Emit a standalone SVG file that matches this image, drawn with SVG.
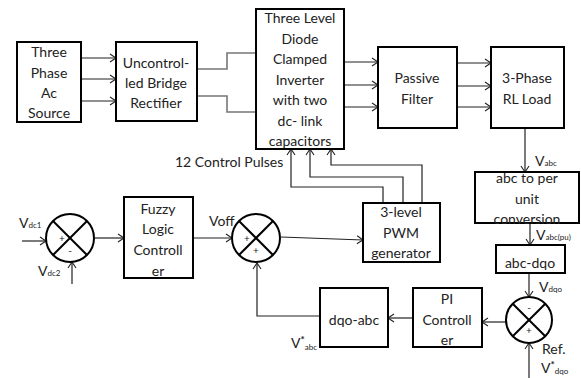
<svg xmlns="http://www.w3.org/2000/svg" width="581" height="378" viewBox="0 0 581 378">
<defs>
<marker id="ah" markerWidth="8" markerHeight="10" refX="7" refY="5" orient="auto" markerUnits="userSpaceOnUse">
<path d="M1,1 L7,5 L1,9" fill="none" stroke="#222" stroke-width="1.1"/>
</marker>
</defs>
<style>
.box{fill:#fff;stroke:#000;stroke-width:2}
.sum{fill:#fff;stroke:#000;stroke-width:2}
.x{stroke:#000;stroke-width:2}
.c{fill:none;stroke:#222;stroke-width:1.2}
.a{fill:none;stroke:#222;stroke-width:1.2;marker-end:url(#ah)}
.g{fill:none;stroke:#777;stroke-width:1.6}
.t{font-family:Lato,"Liberation Sans",sans-serif;font-size:14px;fill:#222;text-anchor:middle}
.l{font-family:Lato,"Liberation Sans",sans-serif;font-size:14px;fill:#222}
.s{font-size:8px}
.st{font-size:10px;font-weight:bold}
.sg{font-family:Lato,"Liberation Sans",sans-serif;font-size:10px;fill:#222;text-anchor:middle}
</style>
<g id="connectors">
<line class="a" x1="81" y1="58" x2="116" y2="58"/>
<line class="a" x1="81" y1="79" x2="116" y2="79"/>
<line class="a" x1="81" y1="101" x2="116" y2="101"/>
<polyline class="g" points="197,69 227,69 227,53 256,53"/>
<polyline class="g" points="197,96 227,96 227,112 256,112"/>
<line class="a" x1="344" y1="62" x2="378" y2="62"/>
<line class="a" x1="344" y1="85" x2="378" y2="85"/>
<line class="a" x1="344" y1="107" x2="378" y2="107"/>
<line class="a" x1="457" y1="63" x2="491" y2="63"/>
<line class="a" x1="457" y1="86" x2="491" y2="86"/>
<line class="a" x1="457" y1="107" x2="491" y2="107"/>
<line class="a" x1="525" y1="128" x2="525" y2="172"/>
<line class="a" x1="530" y1="223" x2="530" y2="245"/>
<line class="a" x1="529" y1="273" x2="529" y2="297"/>
<line class="a" x1="529" y1="378" x2="529" y2="343"/>
<line class="a" x1="506" y1="322" x2="482" y2="322"/>
<line class="a" x1="413" y1="318" x2="388" y2="318"/>
<polyline class="a" points="320,316 257,316 257,263"/>
<line class="a" x1="22" y1="241" x2="46" y2="241"/>
<line class="a" x1="72" y1="284" x2="72" y2="262"/>
<line class="a" x1="95" y1="238" x2="124" y2="238"/>
<line class="a" x1="193" y1="238" x2="232" y2="238"/>
<line class="a" x1="281" y1="237" x2="363" y2="240"/>
<polyline class="a" points="383,203 383,187 291,187 291,149"/>
<polyline class="a" points="403,203 403,177 310,177 310,149"/>
<polyline class="a" points="422,203 422,165 331,165 331,149"/>
</g>
<g id="source">
<rect class="box" x="17" y="42" width="64" height="80"/>
<text class="t" x="49" y="57">Three</text>
<text class="t" x="49" y="78">Phase</text>
<text class="t" x="49" y="98">Ac</text>
<text class="t" x="49" y="118">Source</text>
</g>
<g id="rectifier">
<rect class="box" x="116" y="42" width="81" height="79"/>
<text class="t" x="156" y="68">Uncontrol-</text>
<text class="t" x="156" y="88">led Bridge</text>
<text class="t" x="156" y="108">Rectifier</text>
</g>
<g id="inverter">
<rect class="box" x="256" y="9" width="88" height="140"/>
<text class="t" x="300" y="23">Three Level</text>
<text class="t" x="300" y="44">Diode</text>
<text class="t" x="300" y="64">Clamped</text>
<text class="t" x="300" y="85">Inverter</text>
<text class="t" x="300" y="105">with two</text>
<text class="t" x="300" y="126">dc- link</text>
<text class="t" x="300" y="146">capacitors</text>
</g>
<g id="filter">
<rect class="box" x="378" y="47" width="79" height="81"/>
<text class="t" x="417" y="83">Passive</text>
<text class="t" x="417" y="104">Filter</text>
</g>
<g id="load">
<rect class="box" x="491" y="47" width="73" height="81"/>
<text class="t" x="527" y="83">3-Phase</text>
<text class="t" x="527" y="104">RL Load</text>
</g>
<g id="abc2pu">
<rect class="box" x="475" y="172" width="104" height="51"/>
<text class="t" x="527" y="183">abc to per</text>
<text class="t" x="527" y="204">unit</text>
<text class="t" x="527" y="224">conversion</text>
</g>
<g id="abcdqo">
<rect class="box" x="496" y="245" width="69" height="28"/>
<text class="t" x="530" y="268">abc-dqo</text>
</g>
<g id="sum3">
<circle class="sum" cx="529" cy="320" r="23"/>
<line class="x" x1="512.7" y1="303.7" x2="545.3" y2="336.3"/>
<line class="x" x1="545.3" y1="303.7" x2="512.7" y2="336.3"/>
<text class="sg" x="529" y="311">-</text>
<text class="sg" x="529" y="334">+</text>
</g>
<g id="pi">
<rect class="box" x="413" y="288" width="69" height="59"/>
<text class="t" x="447" y="304">PI</text>
<text class="t" x="447" y="325">Controll</text>
<text class="t" x="447" y="345">er</text>
</g>
<g id="dqoabc">
<rect class="box" x="320" y="288" width="68" height="59"/>
<text class="t" x="354" y="325">dqo-abc</text>
</g>
<g id="sum1">
<circle class="sum" cx="70" cy="238" r="24"/>
<line class="x" x1="53" y1="221" x2="87" y2="255"/>
<line class="x" x1="87" y1="221" x2="53" y2="255"/>
<text class="sg" x="62" y="242">+</text>
<text class="sg" x="70" y="254">-</text>
</g>
<g id="fuzzy">
<rect class="box" x="124" y="197" width="69" height="81"/>
<text class="t" x="158" y="214">Fuzzy</text>
<text class="t" x="158" y="234">Logic</text>
<text class="t" x="158" y="255">Controll</text>
<text class="t" x="158" y="276">er</text>
</g>
<g id="sum2">
<circle class="sum" cx="256" cy="238" r="24"/>
<line class="x" x1="239" y1="221" x2="273" y2="255"/>
<line class="x" x1="273" y1="221" x2="239" y2="255"/>
<text class="sg" x="247" y="242">+</text>
<text class="sg" x="256" y="254">+</text>
</g>
<g id="pwm">
<rect class="box" x="363" y="203" width="77" height="59"/>
<text class="t" x="401" y="217">3-level</text>
<text class="t" x="401" y="238">PWM</text>
<text class="t" x="401" y="258">generator</text>
</g>
<g id="labels">
<text class="l" x="175" y="167">12 Control  Pulses</text>
<text class="l" x="535" y="166">V<tspan class="s">abc</tspan></text>
<text class="l" x="536" y="240">V<tspan class="s">abc(pu)</tspan></text>
<text class="l" x="539" y="292">V<tspan class="s">dqo</tspan></text>
<text class="l" x="19" y="228">V<tspan class="s">dc1</tspan></text>
<text class="l" x="38" y="276">V<tspan class="s">dc2</tspan></text>
<text class="l" x="209" y="226">Voff</text>
<text class="l" x="291" y="348">V<tspan class="st" dy="-5">*</tspan><tspan class="s" dy="7">abc</tspan></text>
<text class="l" x="542" y="354">Ref.</text>
<text class="l" x="541" y="373">V<tspan class="st" dy="-5">*</tspan><tspan class="s" dy="6">dqo</tspan></text>
</g>
</svg>
